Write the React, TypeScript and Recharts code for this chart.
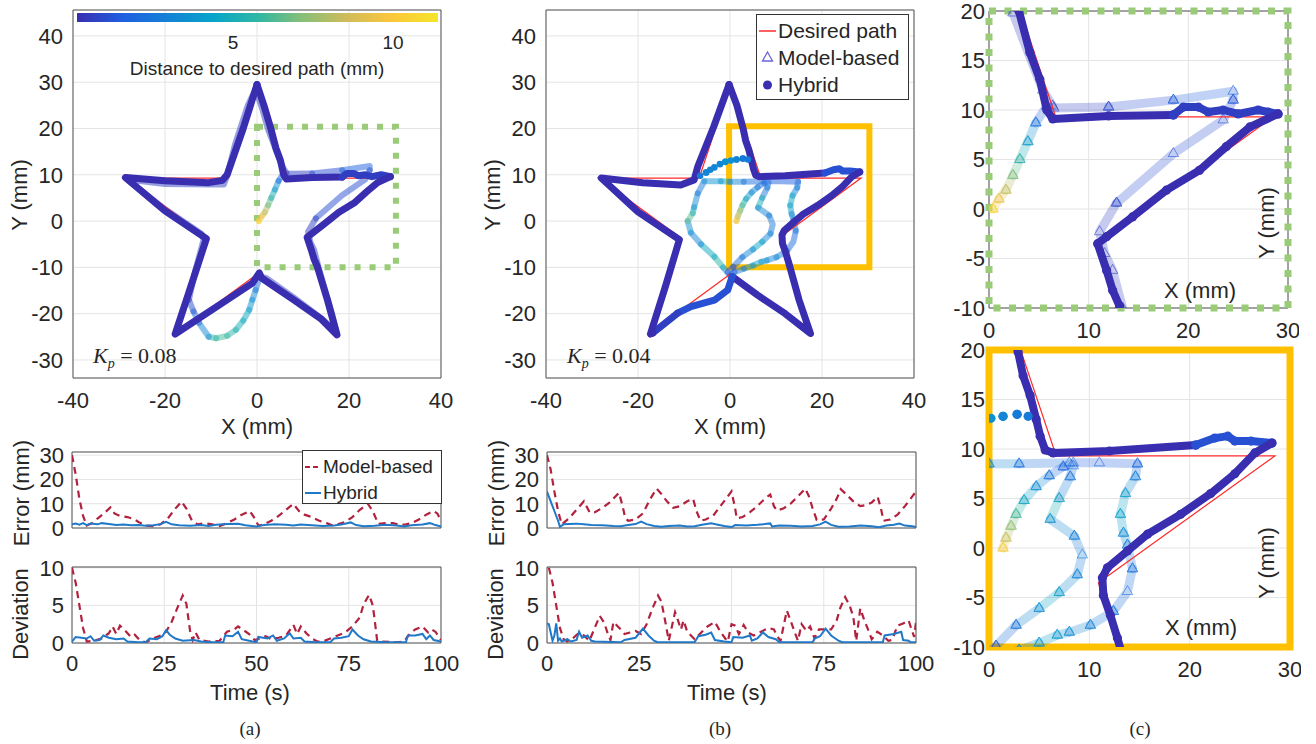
import { ScatterChart, Scatter, XAxis, YAxis, CartesianGrid, ReferenceArea } from 'recharts';

type P = [number, number];
type T = [number, number, number]; // x, y, distance to desired path (mm)

// ---- desired star path ----
const desiredStar: P[] = [
  [0, 29.5], [6.7, 9.3], [28.5, 9.3], [10.9, -3.5], [17.6, -24.3], [0, -11.5],
  [-17.6, -24.3], [-10.9, -3.5], [-28.5, 9.3], [-6.7, 9.3], [0, 29.5],
];

// ---- (a) Kp = 0.08 ----
const hybridA: T[] = [
  [0, 29.5, 0], [1.5, 25, 0], [3, 20, 0], [4.1, 15.8, 0], [5.1, 13.1, 0], [5.8, 10, 0], [6.4, 9.1, 0],
  [12, 9.4, 0], [18.5, 9.5, 0], [19.5, 10.3, 0.5], [21, 10.3, 0.5], [22, 9.8, 0.5], [23.5, 10, 0.5],
  [25, 9.6, 0.5], [27, 10, 0.5], [28, 9.8, 0.5], [29, 9.6, 0.5], [26.2, 8.3, 0], [23.8, 6.3, 0],
  [21.1, 3.9, 0], [17.8, 1.9, 0], [14.4, -0.8, 0], [11.8, -2.8, 0], [10.9, -3.5, 0], [11.8, -6.2, 0],
  [12.4, -8.2, 0], [13.1, -9.8, 0], [15.3, -17, 0], [17.4, -24.6, 0], [14, -21.2, 0], [8, -17, 0],
  [1, -12.3, 0], [0.5, -11.2, 0], [-1, -13.4, 0], [-8, -18, 0], [-17.8, -24.4, 0], [-15, -16, 0],
  [-11, -3.8, 0], [-20, 2.2, 0], [-28.6, 9.4, 0], [-20, 8.7, 0], [-10.5, 8.3, 0], [-7.5, 8.8, 0],
  [-6.5, 10, 0], [-3, 20, 0], [0, 29.5, 0],
];

const modelA: T[] = [
  [0.4, 0, 11], [1, 1, 10], [1.7, 1.9, 9], [2.4, 3.4, 8], [3.1, 5, 6.5], [3.9, 6.8, 5], [4.7, 8.7, 3.5],
  [5.8, 10.4, 1.5], [6.5, 10.2, 0.5], [12, 10.3, 0.5], [18.5, 11, 1], [24.5, 11.9, 1.5], [24.5, 11, 1.5],
  [23.5, 9, 1], [18.5, 5.6, 1], [12.8, 0.6, 1], [11.1, -2.3, 0.5], [11.6, -4.5, 0.5], [12.4, -6.2, 0.5],
  [13.4, -10, 0.5], [16.3, -20, 0.5], [17.3, -24, 0.5], [14, -21, 0.5], [8, -16.5, 0.5], [2, -12.3, 0.5],
  [0.6, -12, 0.5], [-0.3, -14.9, 2], [-1, -17, 3], [-1.7, -19.2, 3.5], [-3, -21.5, 4.5], [-4.6, -23.5, 5],
  [-6.5, -24.8, 5.5], [-8.9, -25.3, 6], [-10.5, -25, 5.5], [-12.6, -22, 3], [-13.8, -19.5, 2],
  [-14.8, -17, 1], [-13.5, -11, 0.5], [-11.6, -4, 0.5], [-12, -2.8, 0.5], [-20, 2.6, 0.5],
  [-28.2, 9, 0.5], [-20, 8, 0.5], [-10, 7.9, 0.5], [-7.2, 7.9, 0.5], [-6.5, 9.8, 0.5], [-4.8, 16.5, 0.5],
  [-2, 25, 0.5], [-0.3, 28.5, 0.5], [1.2, 24, 0.5], [2.4, 19.8, 0.5], [5.4, 12, 0.5], [6.4, 10.4, 0.5],
];

// ---- (b) Kp = 0.04 ----
const hybridB: T[] = [
  [-0.2, 29.5, 0], [1.5, 25, 0], [2.9, 19.8, 0], [3.4, 17.4, 0], [4.1, 15.4, 0], [4.7, 13, 0],
  [5.1, 11.3, 0], [5.6, 9.9, 0], [6.4, 9.6, 0], [12, 9.8, 0], [20.6, 10.4, 0], [22.5, 11.1, 1],
  [23.8, 11.3, 1], [24.5, 10.8, 1], [26.1, 10.8, 1], [28.2, 10.6, 1], [26.5, 9.6, 0], [24.5, 7.5, 0],
  [22.1, 5.5, 0], [19.1, 3.4, 0], [15.8, 1.4, 0], [13.8, -0.3, 0], [11.8, -2, 0], [11.3, -3, 0],
  [11.4, -4.8, 0], [12.1, -6.8, 0], [12.8, -9.1, 0], [15, -17, 0], [17.5, -24.3, 0], [12, -20, 0],
  [6, -16, 0], [0.5, -12, 0], [0.2, -12.8, 0.8], [-0.5, -14.9, 0.8], [-3.4, -17.1, 0.8],
  [-8.5, -18.5, 0.8], [-11.4, -19.9, 0.8], [-16.8, -24.2, 0.5], [-17.3, -24.4, 0], [-14, -14, 0],
  [-11, -4, 0], [-20, 2, 0], [-28, 9.3, 0], [-19, 8.3, 0], [-10.7, 7.8, 0], [-7.8, 8.9, 0],
  [-7, 11.8, 0], [-3.5, 20.5, 0], [-0.2, 29.5, 0],
];

const hybridBStart: T[] = [
  [-6.5, 9.8, 2.5], [-5.2, 10.5, 2.5], [-4.3, 11.1, 3], [-3.4, 11.6, 3], [-2.2, 12.3, 3],
  [-1, 12.8, 3], [0.2, 13.1, 3.5], [1.4, 13.3, 3.5], [2.8, 13.5, 3], [3.9, 13.3, 2.5],
];

const modelB: T[] = [
  [1.4, 0, 10.5], [1.7, 1, 9.5], [2.2, 2.2, 8], [2.7, 3.4, 7], [3.5, 4.8, 5.5], [4.7, 6.2, 4],
  [6, 7.3, 3], [7.4, 8.2, 2], [8.4, 8.6, 1.5], [11, 8.6, 1.5], [14.8, 8.5, 1.5], [14.6, 7.2, 2],
  [13.6, 5.5, 3], [13.1, 3.4, 4.5], [13.4, 1.5, 4], [13.8, 0.3, 3], [14.3, -2.1, 2.5], [13.8, -4.4, 2],
  [12.4, -6.4, 2], [10.1, -7.8, 2.5], [8, -8.5, 3], [6.8, -8.8, 3.5], [5, -9.6, 4], [3, -10.3, 3.5],
  [1, -11, 2.5], [0, -11.8, 1.5], [-1.5, -10, 3], [-3.4, -7.7, 5.5], [-6.3, -5, 4.5], [-8.5, -2.5, 3],
  [-9.2, 0, 3.5], [-8.1, 1.7, 6.5], [-7.8, 3, 5], [-7, 6, 3], [-5.6, 8.6, 2.5], [-2, 8.6, 3.5],
  [0, 8.5, 4], [3, 8.5, 3], [8, 8.6, 2], [8.4, 8.3, 2], [8.1, 7.2, 2], [7, 5, 2.5], [6.1, 2.9, 5],
  [8.5, 1.2, 3], [9.3, -0.7, 2.5], [8.8, -2.7, 2.5], [7, -4.5, 3], [5, -6.1, 4.5], [2.7, -7.8, 3],
  [0.7, -9.9, 2], [-0.5, -11, 1],
];

// ---- time series: [t (s), value] ----
const errAModel: P[] = [
  [0, 30], [1, 22], [2, 12], [3, 5], [4, 1], [5.5, 2], [7, 4], [9, 6.5], [10.4, 8.5], [11.5, 6], [13, 5],
  [15, 4.5], [17, 3.5], [18, 2.5], [20, 1], [22, 0.8], [24, 1.5], [26, 4], [28, 8], [29.7, 10.9], [31, 8],
  [32.5, 3], [34, 1.5], [36, 2], [38, 1.5], [40, 0.8], [42, 2], [44, 3.5], [46, 5.5], [48.2, 7], [49.5, 4],
  [50.5, 1], [52, 1.5], [54, 3], [56, 5], [58, 7.5], [60, 9.9], [61.5, 7], [63, 5.5], [65, 4.5], [67, 3],
  [69, 2], [70.7, 1], [72, 1.5], [74, 2.5], [76, 4.5], [78, 7.5], [80.2, 9.9], [81.5, 7], [83, 1.7],
  [85, 2], [87, 2], [89, 1.2], [90.5, 1.5], [92, 2], [94, 3.5], [96, 5.5], [98, 7], [99, 6], [100, 3],
];
const errAHybrid: P[] = [
  [0, 1.5], [1, 1.8], [2, 1.4], [3, 2], [4, 1.2], [5, 1.8], [7, 1.5], [8, 2], [10, 1.6], [12, 1.2],
  [14, 1.4], [16, 1.1], [18, 1.2], [20, 0.9], [22, 1.1], [24, 1.6], [25.5, 2.5], [27, 1.5], [29, 1.1],
  [32, 0.9], [35, 1.2], [37, 0.8], [39, 1.3], [42, 1.6], [45, 1.7], [47, 1.1], [50, 0.6], [52, 1.2],
  [55, 1.5], [58, 1.3], [60, 1], [62, 1.4], [65, 1.1], [68, 0.8], [71, 1], [73, 1.4], [75.5, 2.3],
  [77, 1.2], [79, 0.7], [82, 0.9], [85, 1.3], [88, 1], [90, 0.6], [92, 1.1], [95, 1.4], [97, 2],
  [98.5, 1.2], [100, 0.6],
];
const devAModel: P[] = [
  [0, 10], [1, 8], [2, 5], [3, 2], [4, 0.2], [6, 0.3], [8, 0.6], [10, 1.3], [11, 2.2], [12, 1.2],
  [13, 2.3], [14.5, 1.6], [16, 0.8], [17, 1.1], [18.5, 0.3], [20, 0.1], [22, 0.6], [24, 1], [25.5, 1.5],
  [27, 2.8], [28.5, 4.6], [30, 6.3], [31, 5.2], [32, 1.6], [32.7, 0.4], [33.5, 1.4], [34.5, 0.4],
  [37, 0.2], [40, 0.3], [42, 1.5], [44, 1.8], [45, 2.2], [46.5, 1.7], [48, 1.2], [49.5, 0.4], [51, 0.6],
  [52.5, 0.9], [54, 0.5], [56, 0.7], [58, 1], [60, 2.4], [61, 1.2], [62, 2.2], [63.5, 1.3], [65, 0.6],
  [66.5, 0.2], [68, 0.2], [70, 0.6], [72, 1], [74, 1.4], [76, 2.2], [78, 3.4], [79, 5.1], [80.5, 6.4],
  [81.5, 5], [82, 3.2], [82.7, 0.3], [84, 0.2], [88, 0.1], [90, 0.2], [91.5, 1.2], [93, 1.8], [95, 2.2],
  [96.5, 1.4], [97.5, 1.8], [98.5, 1.5], [100, 0.4],
];
const devAHybrid: P[] = [
  [0, 0.2], [1, 0.8], [2.5, 0.7], [4, 0.6], [5, 0.9], [6, 0.3], [7.5, 0.4], [8.5, 1], [10, 0.7],
  [12, 0.5], [14, 0.6], [15, 0.2], [18, 0.1], [20, 0.1], [21, 0.6], [23, 0.5], [24.5, 0.9], [25.5, 1.7],
  [26.5, 1.1], [28, 0.6], [30, 0.3], [33, 0.4], [35, 0.2], [38, 0.1], [41, 0.1], [41.5, 1], [43.5, 0.9],
  [45, 1.5], [46, 0.5], [48, 0.3], [50, 0.1], [50.5, 0.8], [53, 0.6], [54.5, 1], [55.5, 0.3], [57.5, 0.6],
  [59, 1.3], [60, 0.6], [62, 0.7], [63, 0.2], [66, 0.1], [70, 0.1], [71, 0.6], [73, 0.7], [75, 0.9],
  [76, 1.8], [77.5, 1], [79, 0.5], [81, 0.2], [85, 0.1], [90.5, 0.1], [91, 1], [93, 1], [95, 1.2],
  [96, 0.5], [97, 1], [98, 0.4], [100, 0.2],
];
const errBModel: P[] = [
  [0, 30], [1, 24], [2, 15], [3, 7], [4, 1.5], [6, 4], [8, 7.5], [10, 11], [11.6, 6.3], [13, 6.5],
  [15.2, 8.5], [17, 10.5], [19.5, 14.5], [20.5, 9], [21.2, 4], [22, 3], [24, 3.5], [26, 6], [28, 12],
  [29.7, 16.2], [31, 14], [32.5, 11], [34.2, 8.3], [36, 9], [38, 11], [39.6, 12], [40.5, 7], [41.6, 3],
  [43, 3.5], [45, 5], [47, 9], [49, 13], [50, 15.1], [51, 8], [51.4, 4], [53, 4.5], [55, 6.5], [57, 9],
  [59, 12], [60.5, 13.8], [61.5, 9], [62.3, 7.2], [64, 8], [66, 10], [68, 13], [70, 16.2], [71, 13],
  [72, 8], [73.1, 3.3], [75, 3.5], [77, 8], [78.5, 12], [79.6, 16], [81, 14], [83, 11], [84.9, 9],
  [86.5, 9.5], [88, 10.5], [89.6, 12.9], [90.5, 8], [91.2, 3], [93, 3.5], [95, 5.5], [97, 9], [99, 13],
  [100, 15],
];
const errBHybrid: P[] = [
  [0, 15], [1, 11], [2, 7], [3, 3], [3.5, 0.5], [4.5, 1.5], [6, 1.6], [8, 1.8], [10, 1.5], [12, 1.2],
  [15, 1.1], [18, 0.8], [20, 0.7], [22, 1.2], [24, 1.6], [25.5, 2.6], [27, 1.6], [29, 0.8], [31, 0.5],
  [33, 0.8], [36, 1], [38, 0.6], [40, 0.7], [42, 1.3], [44.5, 1.9], [46, 1.4], [48, 0.8], [50, 0.4],
  [51, 1.2], [54, 1], [57, 1.3], [59, 1.6], [60.5, 1.9], [61, 0.6], [63, 1], [66, 0.9], [69, 0.6],
  [72, 0.8], [74, 1.5], [75.5, 2.6], [77, 1.3], [79, 0.5], [82, 0.6], [85, 1], [88, 0.7], [90, 0.3],
  [92, 1], [94, 1.3], [95.5, 1.8], [97, 1], [99, 0.7], [100, 0.4],
];
const devBModel: P[] = [
  [0.5, 10], [1.5, 8], [2.5, 5], [3.5, 2], [4.5, 0.5], [5.5, 0.2], [7, 0.6], [8.5, 1.3], [10, 1],
  [11.5, 0.3], [12.5, 1.5], [14.3, 3.6], [15.5, 2.7], [16.5, 1.2], [17.2, 0.4], [18, 2.8], [19, 2.3],
  [20, 1.8], [21, 1.2], [22.5, 1.4], [24, 1.6], [25.5, 1.2], [27, 2.5], [28.5, 4.5], [30.1, 6.3], [31, 5.5],
  [32, 3], [33, 0.3], [34.7, 4.1], [35.5, 3], [36.3, 1.8], [37, 3], [38, 1.5], [40, 0.5], [42, 1.5],
  [43.5, 2.2], [45.5, 2.8], [47, 1.5], [48.3, 0.6], [49, 0.2], [50, 2.5], [51, 2.3], [52, 1.2],
  [53.3, 2.4], [54.5, 1.4], [56, 1], [58, 1.5], [60, 2], [61.5, 1.8], [62.5, 0.8], [63.3, 0.3], [64, 2],
  [65, 4.3], [66, 3], [67, 1.6], [68, 0.3], [69, 2.5], [70.3, 1.6], [71.3, 2.2], [72.5, 0.6], [73.7, 1.8],
  [75.5, 1.8], [77, 1.8], [78.5, 3], [79.5, 4.7], [80.8, 6.1], [82, 5], [83, 3.5], [83.8, 0.3],
  [84.9, 4.6], [86, 3], [87, 1.8], [88, 0.5], [89.5, 1.5], [91, 1], [92.5, 0.3], [93.5, 0.4], [95, 2.3],
  [96.5, 2.6], [98, 3], [99, 1.5], [99.5, 0.8], [100, 2.8],
];
const devBHybrid: P[] = [
  [0, 2.6], [0.5, 2.5], [1.5, 0.3], [2, 1], [2.5, 2.6], [3, 0.3], [3.5, 0.6], [4, 0.2], [5.5, 0.5],
  [6.5, 0.2], [8, 0.4], [8.7, 1.5], [9.5, 0.7], [11, 1], [12, 0.3], [13, 0.2], [20, 0.1], [21, 0.4],
  [24, 0.7], [26, 1.9], [27.5, 1], [29, 0.3], [30, 0.1], [40, 0.1], [41, 0.9], [43, 1.1], [44.5, 1.4],
  [45.5, 0.4], [48, 0.2], [50, 0.1], [50.5, 0.8], [53, 0.7], [55, 1], [55.5, 0.3], [57, 0.6], [58.5, 1.4],
  [60, 0.8], [62, 0.5], [63, 0.1], [72, 0.1], [72.5, 0.6], [74, 0.9], [75.5, 1.9], [77, 1], [79, 0.3],
  [80, 0.1], [91, 0.1], [91.5, 1], [94, 1.2], [96, 1.5], [96.5, 0.4], [98, 0.3], [98.5, 0.1], [100, 0.1],
];

// ---- ticks ----
const starXTicks = [-40, -20, 0, 20, 40];
const starYTicks = [-30, -20, -10, 0, 10, 20, 30, 40];
const zoomXTicks = [0, 10, 20, 30];
const zoomYTicks = [-10, -5, 0, 5, 10, 15, 20];
const timeTicks = [0, 25, 50, 75, 100];
const errTicks = [0, 10, 20, 30];
const devTicks = [0, 5, 10];
const cbTicks = [5, 10];

// ---- styling ----
const SANS = '"Liberation Sans", Arial, Helvetica, sans-serif';
const SERIF = '"Liberation Serif", "Times New Roman", serif';
const INK = '#262626';
const GRID = '#e4e4e4';
const BOX = '#555555';
const RED = '#b2213d';
const BLUE = '#1f78c8';
const DESIRED = '#ff2a2a';
const GREEN = '#9acb78';
const ORANGE = '#ffc000';
const TICK = { fill: INK, fontSize: 22, fontFamily: SANS };
const DMAX = 11.4;
const PARULA = ['#392db0', '#1f5fe0', '#1481d6', '#06a4ca', '#2eb7a4', '#87bf77', '#d1bb59', '#fcc83a', '#f5e52a'];

function hex(c: string) {
  return [1, 3, 5].map((i) => parseInt(c.slice(i, i + 2), 16));
}

function cmap(d: number) {
  const q = Math.round(d * 2) / 2;
  const t = Math.max(0, Math.min(1, q / DMAX)) * (PARULA.length - 1);
  const i = Math.min(PARULA.length - 2, Math.floor(t));
  const f = t - i;
  const a = hex(PARULA[i]);
  const b = hex(PARULA[i + 1]);
  const m = a.map((v, k) => Math.round(v + (b[k] - v) * f));
  return `rgb(${m[0]},${m[1]},${m[2]})`;
}

const xy = (pts: number[][]) => pts.map((p) => ({ x: p[0], y: p[1] }));

// split a trajectory into runs of equal colour (by distance)
function colorRuns(pts: T[]) {
  const out: { color: string; data: { x: number; y: number }[] }[] = [];
  let cur: { color: string; data: { x: number; y: number }[] } | null = null;
  pts.forEach(([x, y, d]) => {
    const c = cmap(d);
    if (!cur || cur.color !== c) {
      const prev = cur ? cur.data[cur.data.length - 1] : null;
      cur = { color: c, data: prev ? [prev] : [] };
      out.push(cur);
    }
    cur.data.push({ x, y });
  });
  return out;
}

interface TrajOpts {
  w: number;
  op: number;
  line?: boolean;
  mark?: 'circle' | 'tri';
  r?: number;
  mop?: number;
}

function marker(p: any, color: string, o: TrajOpts) {
  if (!o.mark || p.cx == null) return <g />;
  const r = o.r ?? 4;
  if (o.mark === 'circle') {
    return <circle cx={p.cx} cy={p.cy} r={r} fill={color} fillOpacity={o.mop ?? 1} />;
  }
  const pts = `${p.cx},${p.cy - r} ${p.cx - r * 0.87},${p.cy + r * 0.5} ${p.cx + r * 0.87},${p.cy + r * 0.5}`;
  return <polygon points={pts} fill="none" stroke={color} strokeOpacity={o.mop ?? 0.5} strokeWidth={1} />;
}

function traj(key: string, pts: T[], o: TrajOpts) {
  return colorRuns(pts).map((run, i) => (
    <Scatter
      key={`${key}-${i}`}
      data={run.data}
      isAnimationActive={false}
      lineType="joint"
      line={
        o.line === false
          ? false
          : { stroke: run.color, strokeWidth: o.w, strokeOpacity: o.op, strokeLinecap: 'round', strokeLinejoin: 'round' }
      }
      shape={(p: any) => marker(p, run.color, o)}
    />
  ));
}

const noShape = () => <g />;

function Txt({ x, y, children, size = 22, rot = false, family = SANS, style = {} }: any) {
  return (
    <div
      style={{
        position: 'absolute', left: x, top: y, lineHeight: 1, whiteSpace: 'nowrap', color: INK,
        fontSize: size, fontFamily: family, pointerEvents: 'none',
        transform: `translate(-50%, -50%)${rot ? ' rotate(-90deg)' : ''}`, ...style,
      }}
    >
      {children}
    </div>
  );
}

function StarPanel({ left, model, hybrid, dots, frame }: { left: number; model: T[]; hybrid: T[]; dots?: T[]; frame: 'green' | 'orange' }) {
  const yDom = [-33.9, 45.6];
  return (
    <div style={{ position: 'absolute', left, top: 0 }}>
      <ScatterChart width={460} height={420} margin={{ top: 10, right: 19, bottom: 12, left: 0 }}>
        <CartesianGrid stroke={GRID} />
        <XAxis type="number" dataKey="x" domain={[-40, 40]} ticks={starXTicks} allowDataOverflow interval={0}
          axisLine={false} tickLine={false} tickSize={0} tickMargin={14} height={30} tick={TICK} />
        <YAxis type="number" dataKey="y" domain={yDom} ticks={starYTicks} allowDataOverflow interval={0}
          axisLine={false} tickLine={false} tickSize={0} tickMargin={10} width={73} tick={TICK} />
        {traj('m', model, { w: 6, op: 0.5 })}
        <Scatter data={xy(desiredStar)} isAnimationActive={false} lineType="joint" shape={noShape}
          line={{ stroke: DESIRED, strokeWidth: 1.2 }} />
        {traj('h', hybrid, { w: 7, op: 1 })}
        {dots && traj('d', dots, { w: 0, op: 1, line: false, mark: 'circle', r: 3.3 })}
        {frame === 'green' ? (
          <ReferenceArea x1={0} x2={30.2} y1={-10} y2={20.4} fill="none" stroke={GREEN} strokeWidth={6}
            strokeDasharray="6 9" ifOverflow="visible" />
        ) : (
          <ReferenceArea x1={-0.2} x2={30.3} y1={-10} y2={20.5} fill="none" stroke={ORANGE} strokeWidth={6}
            ifOverflow="visible" />
        )}
        <ReferenceArea x1={-40} x2={40} y1={yDom[0]} y2={yDom[1]} fill="none" stroke={BOX} ifOverflow="visible" />
      </ScatterChart>
    </div>
  );
}

function ZoomPanel({ top, width, model, hybrid, dots, frame }: { top: number; width: number; model: T[]; hybrid: T[]; dots?: T[]; frame: 'green' | 'orange' }) {
  // plot box is 297 px high, starting 7 px below `top`
  return (
    <div style={{ position: 'absolute', left: 929, top: top - 12 }}>
      <ScatterChart width={width} height={360} margin={{ top: 19, right: 11, bottom: 360 - 19 - 297 - 30, left: 0 }}>
        <CartesianGrid stroke={GRID} />
        <XAxis type="number" dataKey="x" domain={[0, 30]} ticks={zoomXTicks} allowDataOverflow interval={0}
          axisLine={false} tickLine={false} tickSize={0} tickMargin={14} height={30} tick={TICK} />
        <YAxis type="number" dataKey="y" domain={[-10, 20]} ticks={zoomYTicks} allowDataOverflow interval={0}
          axisLine={false} tickLine={false} tickSize={0} tickMargin={4} width={60} tick={TICK} />
        {traj('m', model, { w: 9, op: 0.28, mark: 'tri', r: 6, mop: 0.6 })}
        <Scatter data={xy(desiredStar)} isAnimationActive={false} lineType="joint" shape={noShape}
          line={{ stroke: DESIRED, strokeWidth: 1.2 }} />
        {traj('h', hybrid, { w: 8, op: 1, mark: 'circle', r: 4.6 })}
        {dots && traj('d', dots, { w: 0, op: 1, line: false, mark: 'circle', r: 4.6 })}
        <ReferenceArea x1={0} x2={30} y1={-10} y2={20} fill="none" stroke={BOX} ifOverflow="visible" />
        {frame === 'green' ? (
          <ReferenceArea x1={0} x2={30} y1={-10} y2={20} fill="none" stroke={GREEN} strokeWidth={7}
            strokeDasharray="7 8.5" ifOverflow="visible" />
        ) : (
          <ReferenceArea x1={0} x2={30} y1={-10} y2={20} fill="none" stroke={ORANGE} strokeWidth={7}
            ifOverflow="visible" />
        )}
      </ScatterChart>
    </div>
  );
}

function TimePanel({ left, top, yDom, yTicks, model, hybrid, showX }: { left: number; top: number; yDom: number[]; yTicks: number[]; model: P[]; hybrid: P[]; showX: boolean }) {
  // plot box is 76 px high, starting 10 px below `top`
  const xh = showX ? 30 : 1;
  const height = 140;
  return (
    <div style={{ position: 'absolute', left, top }}>
      <ScatterChart width={460} height={height} margin={{ top: 10, right: 19, bottom: height - 10 - 76 - xh, left: 0 }}>
        <CartesianGrid stroke={GRID} />
        <XAxis type="number" dataKey="x" domain={[0, 100]} ticks={timeTicks} allowDataOverflow interval={0}
          axisLine={false} tickLine={false} tickSize={0} tickMargin={12} height={xh} tick={showX ? TICK : false} />
        <YAxis type="number" dataKey="y" domain={yDom} ticks={yTicks} allowDataOverflow interval={0}
          axisLine={false} tickLine={false} tickSize={0} tickMargin={8} width={72} tick={TICK} />
        <Scatter data={xy(model)} isAnimationActive={false} lineType="joint" shape={noShape}
          line={{ stroke: RED, strokeWidth: 2.2, strokeDasharray: '7 5' }} />
        <Scatter data={xy(hybrid)} isAnimationActive={false} lineType="joint" shape={noShape}
          line={{ stroke: BLUE, strokeWidth: 2 }} />
        <ReferenceArea x1={0} x2={100} y1={yDom[0]} y2={yDom[1]} fill="none" stroke={BOX} ifOverflow="visible" />
      </ScatterChart>
    </div>
  );
}

function Kp({ left, value }: { left: number; value: string }) {
  return (
    <div style={{ position: 'absolute', left, top: 345, fontFamily: SERIF, fontSize: 22, color: INK, lineHeight: 1, whiteSpace: 'nowrap' }}>
      <i>K</i><sub style={{ fontSize: 14 }}><i>p</i></sub> = {value}
    </div>
  );
}

const cbX = (d: number) => 73 + d * 32;

export default function App() {
  return (
    <div style={{ position: 'absolute', left: 0, top: 0, width: 1316, height: 744, background: '#fff', overflow: 'hidden', fontFamily: SANS }}>
      <StarPanel left={0} model={modelA} hybrid={hybridA} frame="green" />
      <StarPanel left={473} model={modelB} hybrid={hybridB} dots={hybridBStart} frame="orange" />

      <TimePanel left={0} top={442} yDom={[0, 31.3]} yTicks={errTicks} model={errAModel} hybrid={errAHybrid} showX={false} />
      <TimePanel left={0} top={557} yDom={[0, 10.1]} yTicks={devTicks} model={devAModel} hybrid={devAHybrid} showX />
      <TimePanel left={475} top={442} yDom={[0, 31.3]} yTicks={errTicks} model={errBModel} hybrid={errBHybrid} showX={false} />
      <TimePanel left={475} top={557} yDom={[0, 10.1]} yTicks={devTicks} model={devBModel} hybrid={devBHybrid} showX />

      <ZoomPanel top={4} width={370} model={modelA} hybrid={hybridA} frame="green" />
      <ZoomPanel top={343} width={372} model={modelB} hybrid={hybridB} dots={hybridBStart} frame="orange" />

      {/* colorbar in (a) */}
      <div style={{ position: 'absolute', left: 77, top: 13, width: 361, height: 9, background: `linear-gradient(to right, ${PARULA.join(', ')})` }} />
      {cbTicks.map((t) => (
        <Txt key={t} x={cbX(t)} y={42} size={19}>{t}</Txt>
      ))}
      <Txt x={257} y={68} size={19}>Distance to desired path (mm)</Txt>

      {/* legend in (b) */}
      <div style={{ position: 'absolute', left: 756, top: 14, width: 151, height: 84, background: '#fff', border: '1px solid #333', fontSize: 21, color: INK, lineHeight: 1 }}>
        {[
          { label: 'Desired path', icon: <line x1={1} y1={9} x2={18} y2={9} stroke={DESIRED} strokeWidth={1.5} /> },
          { label: 'Model-based', icon: <polygon points="9.5,3 4.5,12 14.5,12" fill="none" stroke="#6a64d8" strokeWidth={1.3} /> },
          { label: 'Hybrid', icon: <circle cx={9.5} cy={9} r={4.5} fill="#3a2fb0" /> },
        ].map((it, i) => (
          <div key={i} style={{ position: 'absolute', left: 1, top: 5 + i * 27, display: 'flex', alignItems: 'center', whiteSpace: 'nowrap' }}>
            <svg width={19} height={18}>{it.icon}</svg>
            <span style={{ marginLeft: 1 }}>{it.label}</span>
          </div>
        ))}
      </div>

      {/* legend in (a) error plot */}
      <div style={{ position: 'absolute', left: 302, top: 450, width: 138, height: 52, background: '#fff', border: '1px solid #333', fontSize: 19, color: INK, lineHeight: 1 }}>
        {[
          { label: 'Model-based', icon: <line x1={1} y1={8} x2={17} y2={8} stroke={RED} strokeWidth={2} strokeDasharray="5 3" /> },
          { label: 'Hybrid', icon: <line x1={1} y1={8} x2={17} y2={8} stroke={BLUE} strokeWidth={2} /> },
        ].map((it, i) => (
          <div key={i} style={{ position: 'absolute', left: 1, top: 6 + i * 26, display: 'flex', alignItems: 'center', whiteSpace: 'nowrap' }}>
            <svg width={18} height={16}>{it.icon}</svg>
            <span style={{ marginLeft: 1 }}>{it.label}</span>
          </div>
        ))}
      </div>

      <Kp left={93} value="0.08" />
      <Kp left={567} value="0.04" />

      {/* axis titles */}
      <Txt x={20} y={195} rot>Y (mm)</Txt>
      <Txt x={493} y={195} rot>Y (mm)</Txt>
      <Txt x={257} y={427}>X (mm)</Txt>
      <Txt x={730} y={427}>X (mm)</Txt>
      <Txt x={22} y={493} rot>Error (mm)</Txt>
      <Txt x={497} y={493} rot>Error (mm)</Txt>
      <Txt x={21} y={614} rot>Deviation</Txt>
      <Txt x={496} y={614} rot>Deviation</Txt>
      <Txt x={250} y={693}>Time (s)</Txt>
      <Txt x={727} y={693}>Time (s)</Txt>
      <Txt x={1200} y={291}>X (mm)</Txt>
      <Txt x={1267} y={223} rot>Y (mm)</Txt>
      <Txt x={1201} y={628}>X (mm)</Txt>
      <Txt x={1267} y={563} rot>Y (mm)</Txt>

      <Txt x={250} y={728} size={19} family={SERIF}>(a)</Txt>
      <Txt x={720} y={728} size={19} family={SERIF}>(b)</Txt>
      <Txt x={1140} y={728} size={19} family={SERIF}>(c)</Txt>
    </div>
  );
}
